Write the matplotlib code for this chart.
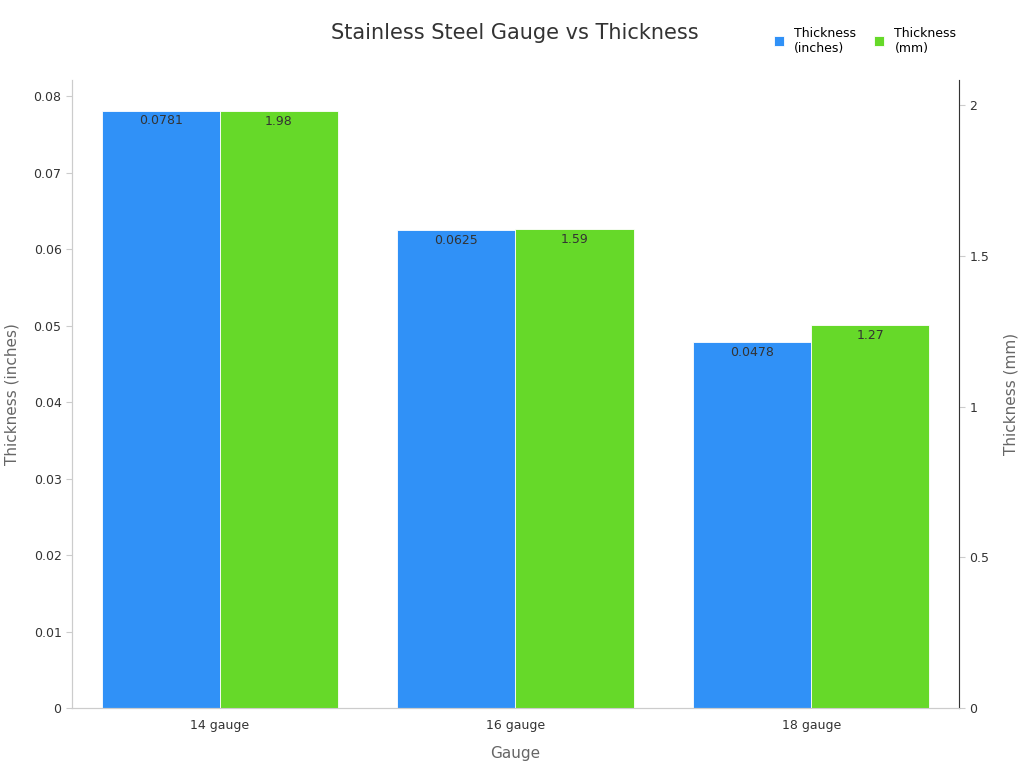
import matplotlib
matplotlib.use("Agg")
import matplotlib.pyplot as plt
import numpy as np

gauges = ["14 gauge", "16 gauge", "18 gauge"]
inches = [0.0781, 0.0625, 0.0478]
mm = [1.98, 1.59, 1.27]
inch_labels = ["0.0781", "0.0625", "0.0478"]
mm_labels = ["1.98", "1.59", "1.27"]

BLUE = "#3091f7"
GREEN = "#66d929"
GRID = "#cccccc"

fig = plt.figure(figsize=(10.24, 7.68), dpi=100)
ax = fig.add_axes([0.0703, 0.078, 0.8662, 0.8178])
ax2 = ax.twinx()

x = np.arange(len(gauges))
w = 0.4
b1 = ax.bar(x - w / 2, inches, w, color=BLUE, edgecolor="white", linewidth=0.6, label="Thickness\n(inches)")
b2 = ax2.bar(x + w / 2, mm, w, color=GREEN, edgecolor="white", linewidth=0.6, label="Thickness\n(mm)")

for r, t in zip(b1, inch_labels):
    ax.text(r.get_x() + r.get_width() / 2, r.get_height() - 0.0005, t, ha="center", va="top", fontsize=9, color="#333333")
for r, t in zip(b2, mm_labels):
    ax2.text(r.get_x() + r.get_width() / 2, r.get_height() - 0.013, t, ha="center", va="top", fontsize=9, color="#333333")

ax.set_xlim(-0.5, 2.5)
ax.set_ylim(0, 0.0821)
ax2.set_ylim(0, 2.083)
ax.set_yticks(np.arange(0, 0.081, 0.01))
ax.set_yticklabels(["0"] + [f"{v:.2f}" for v in np.arange(0.01, 0.081, 0.01)])
ax2.set_yticks([0, 0.5, 1, 1.5, 2])
ax2.set_yticklabels(["0", "0.5", "1", "1.5", "2"])
ax.set_xticks(x)
ax.set_xticklabels(gauges)

for a in (ax, ax2):
    a.spines["top"].set_visible(False)
    for s in ("left", "right", "bottom"):
        a.spines[s].set_color(GRID)
    a.tick_params(colors="#333333", labelsize=9, length=4)
    a.tick_params(axis="y", color=GRID)
ax.tick_params(axis="x", length=0, pad=8)
ax2.spines["right"].set_color("#333333")

ax.set_xlabel("Gauge", fontsize=11, color="#666666", labelpad=10)
ax.set_ylabel("Thickness (inches)", fontsize=11, color="#666666", labelpad=10)
ax2.set_ylabel("Thickness (mm)", fontsize=11, color="#666666", labelpad=10)

fig.text(0.503, 0.957, "Stainless Steel Gauge vs Thickness", ha="center", va="center", fontsize=15, color="#333333")

h = [b1, b2]
fig.legend(h, ["Thickness\n(inches)", "Thickness\n(mm)"], loc="upper right", bbox_to_anchor=(0.945, 0.98),
           ncol=2, frameon=False, fontsize=9, handlelength=0.8, handleheight=0.8, columnspacing=1.5)

fig.savefig("out.png", dpi=100)
